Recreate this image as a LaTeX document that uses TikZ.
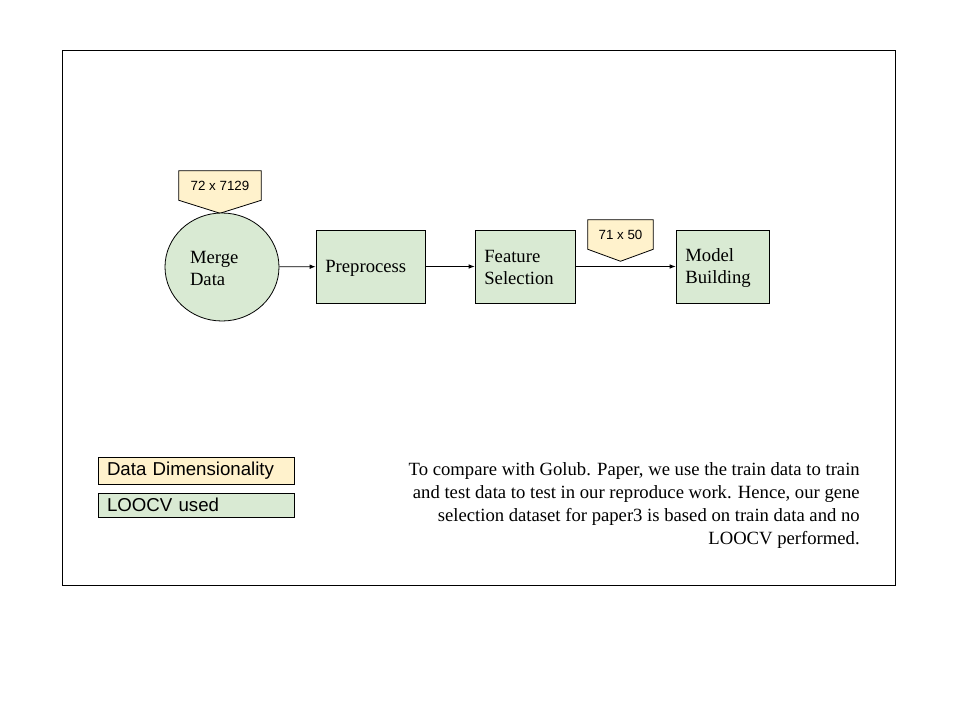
\documentclass[tikz,border=0pt]{standalone}
\usepackage{fontspec}
\setmainfont{Liberation Serif}
\newfontfamily\arialfont{Liberation Sans}
\usepackage{xcolor}
\usetikzlibrary{shapes.geometric,arrows.meta,calc,positioning,backgrounds}
\definecolor{boxgreen}{HTML}{D9EAD3}
\definecolor{dimyellow}{HTML}{FFF2CC}

\begin{document}
\begin{tikzpicture}[x=0.75pt,y=-0.75pt,
  stepbox/.style={draw, line width=0.6pt, fill=boxgreen, rectangle, minimum height=54.75pt,
    inner xsep=7pt, align=left, font=\fontsize{14}{16.5}\selectfont},
  flow/.style={-{Latex[length=4.5pt,width=3.5pt]}, line width=0.6pt},
  dimtext/.style={rectangle, minimum width=#1, minimum height=21.75pt, inner sep=0pt,
    font=\arialfont\fontsize{10}{12}\selectfont},
  callout/.style={draw, line width=0.6pt, fill=dimyellow},
  legendbox/.style={draw, line width=0.6pt, rectangle, minimum width=147pt, minimum height=18pt,
    inner xsep=6.75pt, text width=133.5pt, align=left, font=\arialfont\fontsize{14}{16}\selectfont}]
\useasboundingbox (0,0) rectangle (960,720);
\draw[line width=0.6pt] (62,50) rectangle (895,585);

% pipeline
\node[draw, line width=0.6pt, fill=boxgreen, ellipse, minimum width=85.5pt, minimum height=81pt,
  inner sep=0pt, text width=48pt, align=left, text depth=15pt, font=\fontsize{14}{16.5}\selectfont]
  (merge) at (222,267) {Merge\\Data};
\node[stepbox, text width=67.75pt, text depth=0pt] (prep) at (370.5,266.5) {Preprocess};
\node[stepbox, text width=61pt, text depth=15pt] (feat) at (525,266.5) {Feature\\Selection};
\node[stepbox, text width=55.75pt, text depth=17pt] (model) at (722.5,266.5) {Model\\Building};
\draw[flow] (merge) -- (prep);
\draw[flow] (prep) -- (feat);
\draw[flow] (feat) -- (model);

% dimensionality tags
\node[dimtext=61.5pt] (dimA) at (220,185.5) {72 x 7129};
\node[dimtext=48.75pt] (dimB) at (620.5,234.5) {71 x 50};
\begin{scope}[on background layer]
\path[callout] (dimA.north west) -- (dimA.north east) -- (dimA.south east)
  -- ($(dimA.south)+(0,13)$) -- (dimA.south west) -- cycle;
\path[callout] (dimB.north west) -- (dimB.north east) -- (dimB.south east)
  -- ($(dimB.south)+(0,12)$) -- (dimB.south west) -- cycle;
\end{scope}

% legend
\node[legendbox, fill=dimyellow] (legdim) at (196,471) {Data Dimensionality};
\node[legendbox, fill=boxgreen, below=6pt of legdim] (legloo) {LOOCV used};

% note
\node[anchor=base east, align=right, inner sep=0pt, font=\fontsize{14}{17.25}\selectfont]
  (note) at (860,544) {To compare with Golub. Paper, we use the train data to train\\
  and test data to test in our reproduce work. Hence, our gene\\
  selection dataset for paper3 is based on train data and no\\
  LOOCV performed.};
\end{tikzpicture}
\end{document}
